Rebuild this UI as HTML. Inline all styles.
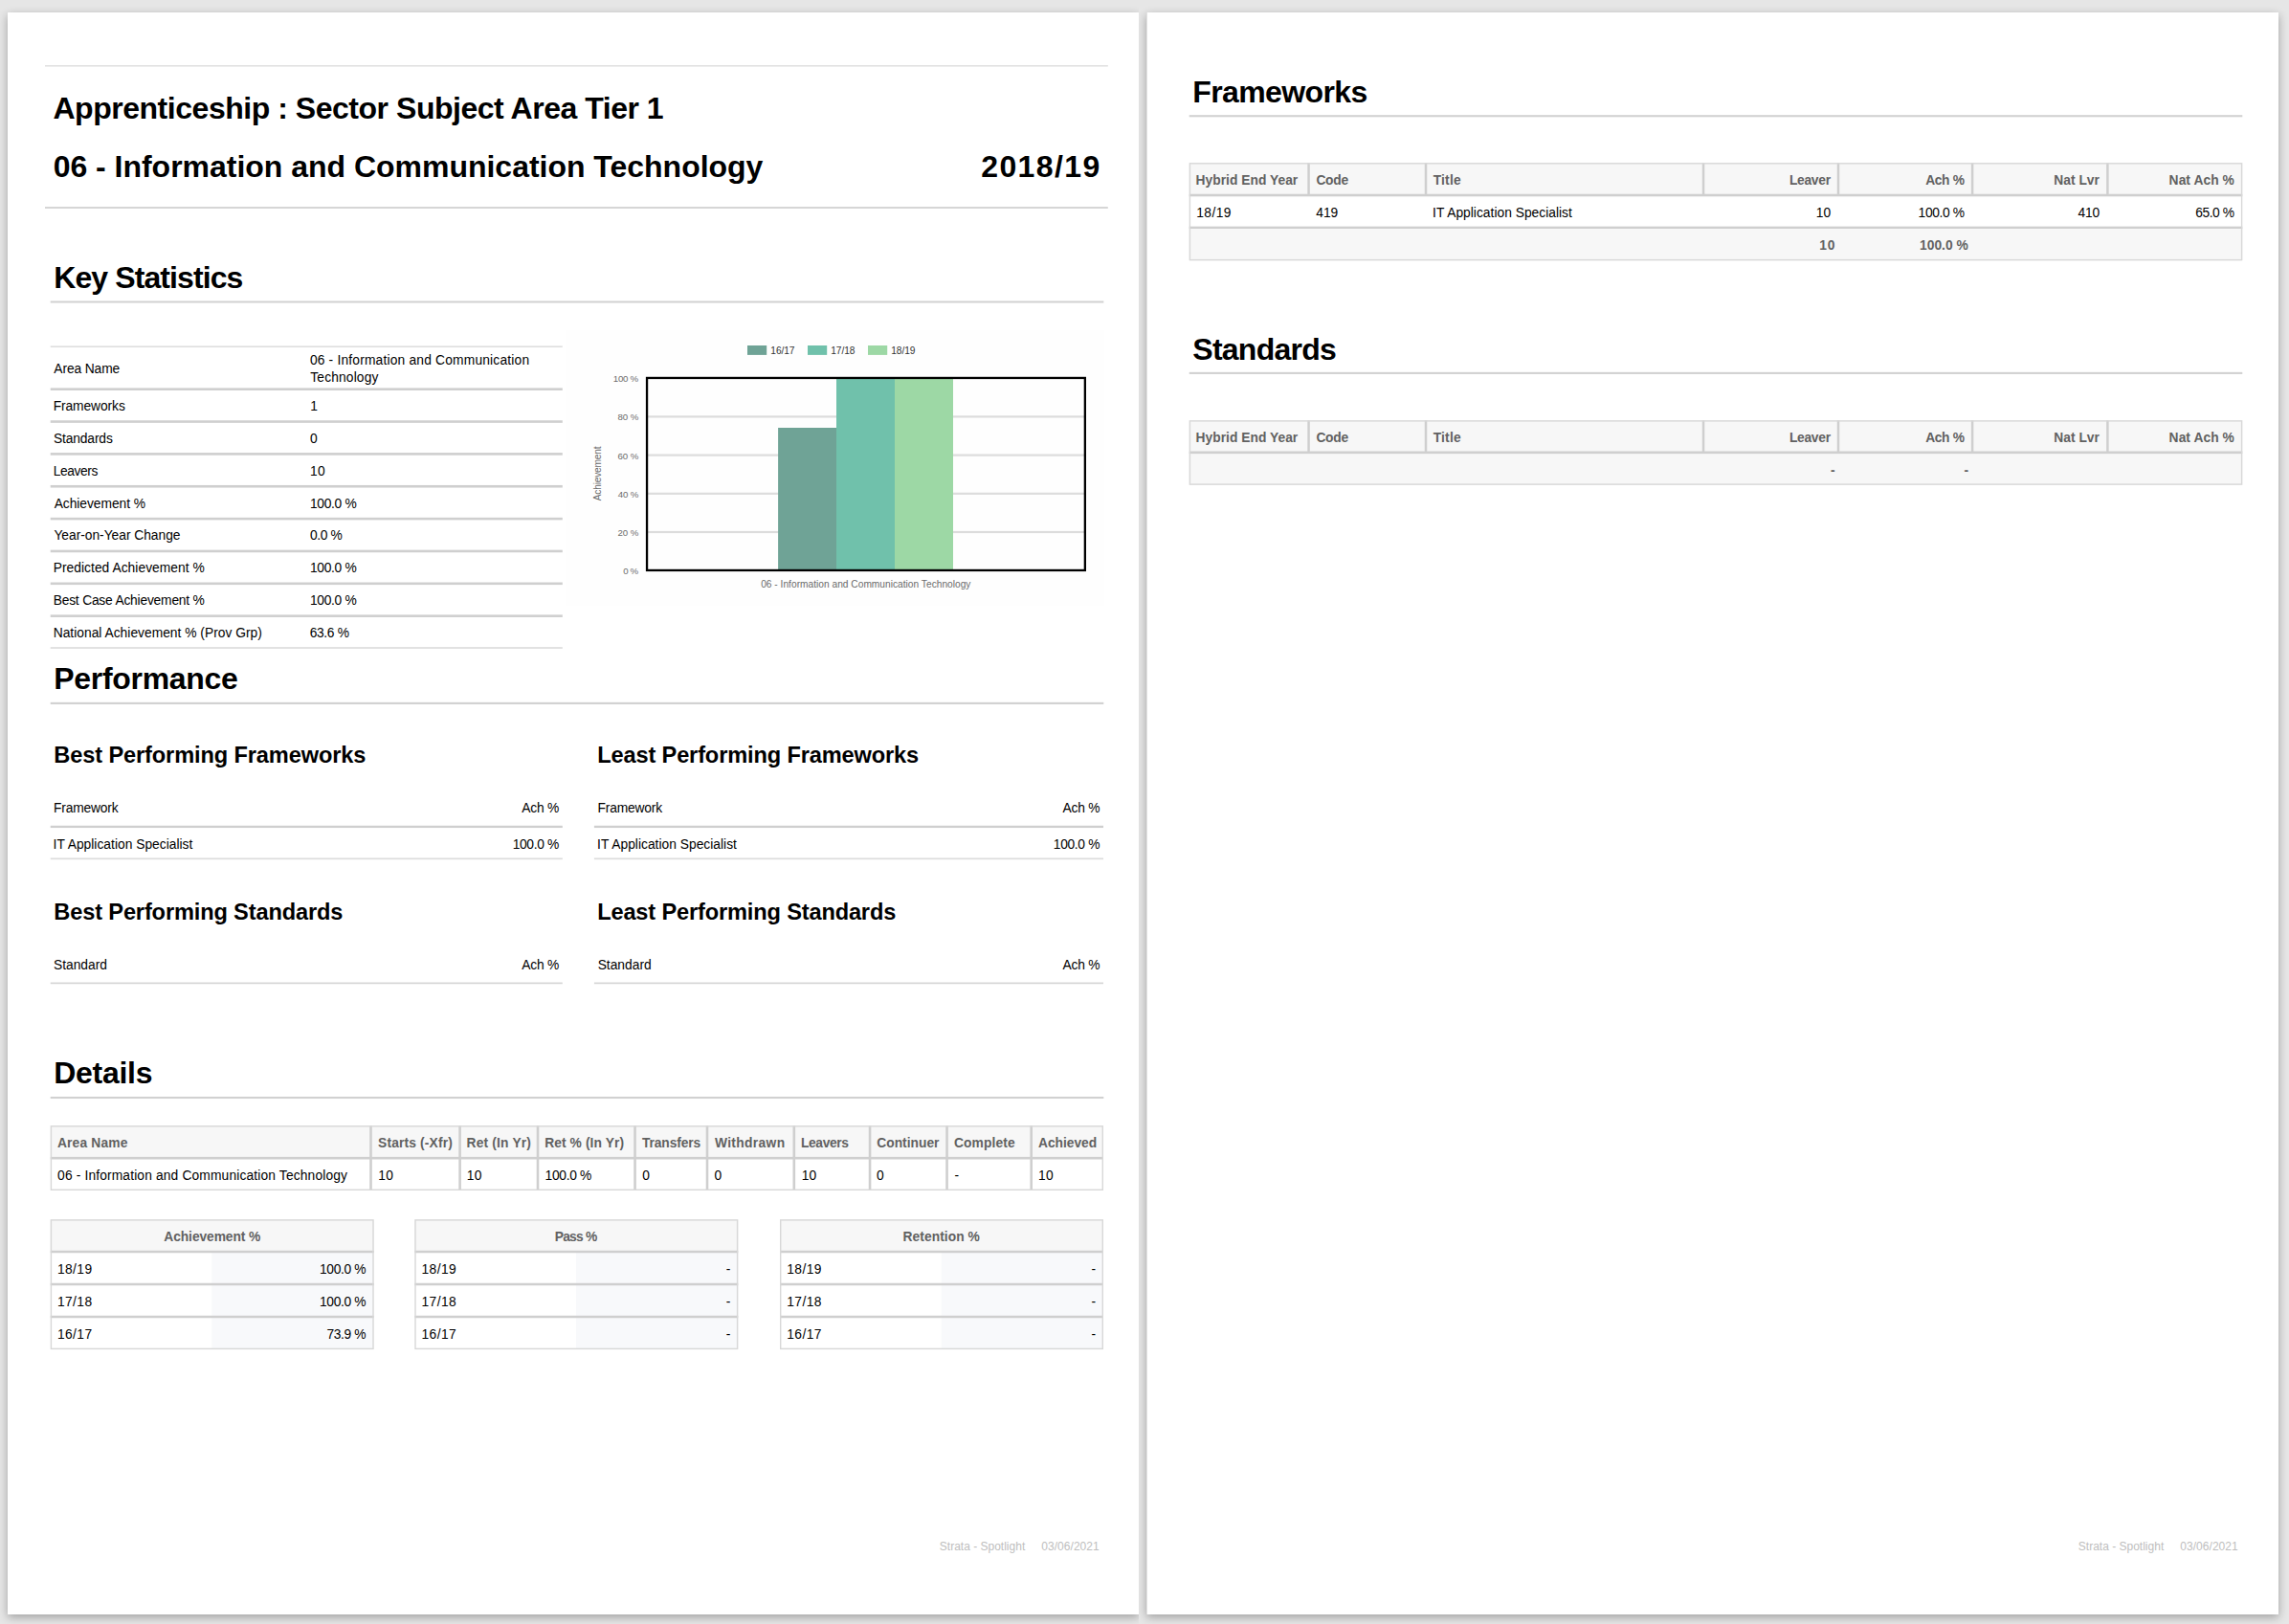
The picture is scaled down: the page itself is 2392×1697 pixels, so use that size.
<!DOCTYPE html>
<html lang="en">
<head>
<meta charset="utf-8">
<title>Apprenticeship : Sector Subject Area Tier 1</title>
<style>
html,body{margin:0;padding:0;}
body{width:2392px;height:1697px;background:#e6e6e6;position:relative;overflow:hidden;font-family:"Liberation Sans",sans-serif;color:#000;}
.wrap{position:absolute;top:0;height:1697px;overflow:hidden;background:#e6e6e6;}
.page{position:absolute;top:13px;height:1674px;background:#fff;box-shadow:0 3px 9px rgba(0,0,0,.3);}
.t{position:absolute;white-space:nowrap;line-height:1;}
.b{font-weight:bold;}
svg.g{position:absolute;left:0;top:0;}
</style>
</head>
<body>
<div class="wrap" style="left:0;width:1190px"><div class="page" style="left:8px;width:1182px"></div></div>
<div class="wrap" style="left:1190px;width:1202px"><div class="page" style="left:8px;width:1183px"></div><div style="position:absolute;left:8px;top:13px;width:1px;height:1674px;background:#e1e1e1"></div></div>
<svg class="g" width="2392" height="1697" viewBox="0 0 2392 1697">
<rect x="47.00" y="68.00" width="1110.80" height="1.60" fill="#e2e2e2"/>
<rect x="47.00" y="216.05" width="1110.80" height="1.90" fill="#d4d4d4"/>
<rect x="52.70" y="314.50" width="1100.60" height="2.00" fill="#d1d1d1"/>
<rect x="52.70" y="361.45" width="535.10" height="1.50" fill="#dddddd"/>
<rect x="52.70" y="405.40" width="535.10" height="2.60" fill="#cfcfcf"/>
<rect x="52.70" y="439.25" width="535.10" height="2.60" fill="#cfcfcf"/>
<rect x="52.70" y="473.10" width="535.10" height="2.60" fill="#cfcfcf"/>
<rect x="52.70" y="506.95" width="535.10" height="2.60" fill="#cfcfcf"/>
<rect x="52.70" y="540.80" width="535.10" height="2.60" fill="#cfcfcf"/>
<rect x="52.70" y="574.65" width="535.10" height="2.60" fill="#cfcfcf"/>
<rect x="52.70" y="608.50" width="535.10" height="2.60" fill="#cfcfcf"/>
<rect x="52.70" y="642.35" width="535.10" height="2.60" fill="#cfcfcf"/>
<rect x="52.70" y="676.15" width="535.10" height="1.70" fill="#dddddd"/>
<rect x="591.00" y="345.50" width="563.00" height="287.50" fill="#fefefe"/>
<rect x="781.00" y="361.00" width="20.20" height="9.90" fill="#6fa396"/>
<rect x="844.00" y="361.00" width="20.20" height="9.90" fill="#70c1ab"/>
<rect x="907.00" y="361.00" width="20.20" height="9.90" fill="#9dd8a5"/>
<rect x="677.00" y="434.30" width="456.00" height="2.20" fill="#dcdcdc"/>
<rect x="677.00" y="474.50" width="456.00" height="2.20" fill="#dcdcdc"/>
<rect x="677.00" y="514.70" width="456.00" height="2.20" fill="#dcdcdc"/>
<rect x="677.00" y="554.90" width="456.00" height="2.20" fill="#dcdcdc"/>
<rect x="813.10" y="447.00" width="60.90" height="149.00" fill="#6fa396"/>
<rect x="874.00" y="395.00" width="61.00" height="201.00" fill="#70c1ab"/>
<rect x="935.00" y="395.00" width="61.00" height="201.00" fill="#9dd8a5"/>
<rect x="676.05" y="394.95" width="457.80" height="201.00" fill="none" stroke="#000" stroke-width="2.3"/>
<rect x="52.70" y="733.85" width="1100.60" height="2.10" fill="#d1d1d1"/>
<rect x="52.70" y="862.75" width="535.10" height="2.30" fill="#cfcfcf"/>
<rect x="52.70" y="896.45" width="535.10" height="1.70" fill="#dddddd"/>
<rect x="620.90" y="862.75" width="532.10" height="2.30" fill="#cfcfcf"/>
<rect x="620.90" y="896.45" width="532.10" height="1.70" fill="#dddddd"/>
<rect x="52.70" y="1026.55" width="535.10" height="1.70" fill="#d6d6d6"/>
<rect x="620.90" y="1026.55" width="532.10" height="1.70" fill="#d6d6d6"/>
<rect x="52.70" y="1145.95" width="1100.60" height="2.10" fill="#d1d1d1"/>
<rect x="52.70" y="1176.20" width="1100.30" height="34.00" fill="#f7f7f7"/>
<rect x="386.20" y="1176.20" width="2.60" height="67.80" fill="#cfcfcf"/>
<rect x="479.30" y="1176.20" width="2.60" height="67.80" fill="#cfcfcf"/>
<rect x="560.70" y="1176.20" width="2.60" height="67.80" fill="#cfcfcf"/>
<rect x="662.25" y="1176.20" width="2.60" height="67.80" fill="#cfcfcf"/>
<rect x="737.70" y="1176.20" width="2.60" height="67.80" fill="#cfcfcf"/>
<rect x="828.50" y="1176.20" width="2.60" height="67.80" fill="#cfcfcf"/>
<rect x="907.75" y="1176.20" width="2.60" height="67.80" fill="#cfcfcf"/>
<rect x="988.25" y="1176.20" width="2.60" height="67.80" fill="#cfcfcf"/>
<rect x="1076.40" y="1176.20" width="2.60" height="67.80" fill="#cfcfcf"/>
<rect x="52.70" y="1208.90" width="1100.30" height="2.60" fill="#cfcfcf"/>
<rect x="53.40" y="1176.90" width="1098.90" height="66.40" fill="none" stroke="#d8d8d8" stroke-width="1.4"/>
<rect x="52.70" y="1274.20" width="338.00" height="33.80" fill="#f7f7f7"/>
<rect x="221.30" y="1308.00" width="169.40" height="102.10" fill="#f8f9fb"/>
<rect x="52.70" y="1306.75" width="338.00" height="2.50" fill="#cfcfcf"/>
<rect x="52.70" y="1340.75" width="338.00" height="2.50" fill="#cfcfcf"/>
<rect x="52.70" y="1374.75" width="338.00" height="2.50" fill="#cfcfcf"/>
<rect x="53.40" y="1274.90" width="336.60" height="134.50" fill="none" stroke="#d8d8d8" stroke-width="1.4"/>
<rect x="433.30" y="1274.20" width="338.00" height="33.80" fill="#f7f7f7"/>
<rect x="601.90" y="1308.00" width="169.40" height="102.10" fill="#f8f9fb"/>
<rect x="433.30" y="1306.75" width="338.00" height="2.50" fill="#cfcfcf"/>
<rect x="433.30" y="1340.75" width="338.00" height="2.50" fill="#cfcfcf"/>
<rect x="433.30" y="1374.75" width="338.00" height="2.50" fill="#cfcfcf"/>
<rect x="434.00" y="1274.90" width="336.60" height="134.50" fill="none" stroke="#d8d8d8" stroke-width="1.4"/>
<rect x="815.00" y="1274.20" width="338.00" height="33.80" fill="#f7f7f7"/>
<rect x="983.60" y="1308.00" width="169.40" height="102.10" fill="#f8f9fb"/>
<rect x="815.00" y="1306.75" width="338.00" height="2.50" fill="#cfcfcf"/>
<rect x="815.00" y="1340.75" width="338.00" height="2.50" fill="#cfcfcf"/>
<rect x="815.00" y="1374.75" width="338.00" height="2.50" fill="#cfcfcf"/>
<rect x="815.70" y="1274.90" width="336.60" height="134.50" fill="none" stroke="#d8d8d8" stroke-width="1.4"/>
<rect x="1242.70" y="120.20" width="1100.60" height="2.10" fill="#d1d1d1"/>
<rect x="1242.70" y="170.10" width="1100.60" height="33.90" fill="#f7f7f7"/>
<rect x="1242.70" y="237.80" width="1100.60" height="34.50" fill="#f7f7f7"/>
<rect x="1366.30" y="170.10" width="2.50" height="33.90" fill="#cfcfcf"/>
<rect x="1488.75" y="170.10" width="2.50" height="33.90" fill="#cfcfcf"/>
<rect x="1778.80" y="170.10" width="2.50" height="33.90" fill="#cfcfcf"/>
<rect x="1919.75" y="170.10" width="2.50" height="33.90" fill="#cfcfcf"/>
<rect x="2059.85" y="170.10" width="2.50" height="33.90" fill="#cfcfcf"/>
<rect x="2201.15" y="170.10" width="2.50" height="33.90" fill="#cfcfcf"/>
<rect x="1242.70" y="202.70" width="1100.60" height="2.60" fill="#cfcfcf"/>
<rect x="1242.70" y="236.60" width="1100.60" height="2.40" fill="#cfcfcf"/>
<rect x="1243.40" y="170.80" width="1099.20" height="100.80" fill="none" stroke="#d8d8d8" stroke-width="1.4"/>
<rect x="1242.70" y="388.85" width="1100.60" height="2.10" fill="#d1d1d1"/>
<rect x="1242.70" y="439.20" width="1100.60" height="33.60" fill="#f7f7f7"/>
<rect x="1242.70" y="472.80" width="1100.60" height="34.00" fill="#f7f7f7"/>
<rect x="1366.30" y="439.20" width="2.50" height="33.60" fill="#cfcfcf"/>
<rect x="1488.75" y="439.20" width="2.50" height="33.60" fill="#cfcfcf"/>
<rect x="1778.80" y="439.20" width="2.50" height="33.60" fill="#cfcfcf"/>
<rect x="1919.75" y="439.20" width="2.50" height="33.60" fill="#cfcfcf"/>
<rect x="2059.85" y="439.20" width="2.50" height="33.60" fill="#cfcfcf"/>
<rect x="2201.15" y="439.20" width="2.50" height="33.60" fill="#cfcfcf"/>
<rect x="1242.70" y="471.50" width="1100.60" height="2.60" fill="#cfcfcf"/>
<rect x="1243.40" y="439.90" width="1099.20" height="66.20" fill="none" stroke="#d8d8d8" stroke-width="1.4"/>
</svg>
<div class="t b" style="left:55.45px;top:97px;font-size:32px;letter-spacing:-0.47px;">Apprenticeship : Sector Subject Area Tier 1</div>
<div class="t b" style="left:55.65px;top:158px;font-size:32px;letter-spacing:-0.018px;">06 - Information and Communication Technology</div>
<div class="t b" style="left:1025.25px;top:158px;font-size:32px;letter-spacing:1.383px;">2018/19</div>
<div class="t b" style="left:56.20px;top:274px;font-size:32px;letter-spacing:-0.9px;">Key Statistics</div>
<div class="t" style="left:56.30px;top:379px;font-size:13.8px;letter-spacing:-0.106px;">Area Name</div>
<div class="t" style="left:323.90px;top:370px;font-size:13.8px;letter-spacing:0.183px;">06 - Information and Communication</div>
<div class="t" style="left:324.35px;top:388px;font-size:13.8px;letter-spacing:0.133px;">Technology</div>
<div class="t" style="left:55.70px;top:418px;font-size:13.8px;letter-spacing:-0.089px;">Frameworks</div>
<div class="t" style="left:324.30px;top:418px;font-size:13.8px;">1</div>
<div class="t" style="left:55.95px;top:452px;font-size:13.8px;letter-spacing:-0.131px;">Standards</div>
<div class="t" style="left:323.90px;top:452px;font-size:13.8px;">0</div>
<div class="t" style="left:55.70px;top:486px;font-size:13.8px;letter-spacing:-0.383px;">Leavers</div>
<div class="t" style="left:324.00px;top:486px;font-size:13.8px;letter-spacing:0.45px;">10</div>
<div class="t" style="left:56.70px;top:520px;font-size:13.8px;letter-spacing:-0.038px;">Achievement %</div>
<div class="t" style="left:324.00px;top:520px;font-size:13.8px;letter-spacing:-0.325px;">100.0 %</div>
<div class="t" style="left:56.45px;top:553px;font-size:13.8px;letter-spacing:-0.022px;">Year-on-Year Change</div>
<div class="t" style="left:323.90px;top:553px;font-size:13.8px;letter-spacing:-0.363px;">0.0 %</div>
<div class="t" style="left:55.70px;top:587px;font-size:13.8px;letter-spacing:0.039px;">Predicted Achievement %</div>
<div class="t" style="left:324.00px;top:587px;font-size:13.8px;letter-spacing:-0.325px;">100.0 %</div>
<div class="t" style="left:55.70px;top:621px;font-size:13.8px;letter-spacing:-0.2px;">Best Case Achievement %</div>
<div class="t" style="left:324.00px;top:621px;font-size:13.8px;letter-spacing:-0.325px;">100.0 %</div>
<div class="t" style="left:55.70px;top:655px;font-size:13.8px;letter-spacing:0.013px;">National Achievement % (Prov Grp)</div>
<div class="t" style="left:323.65px;top:655px;font-size:13.8px;letter-spacing:-0.33px;">63.6 %</div>
<div class="t" style="left:805.35px;top:362px;font-size:10.2px;letter-spacing:-0.088px;color:#333;">16/17</div>
<div class="t" style="left:868.25px;top:362px;font-size:10.2px;letter-spacing:-0.088px;color:#333;">17/18</div>
<div class="t" style="left:931.25px;top:362px;font-size:10.2px;letter-spacing:-0.088px;color:#333;">18/19</div>
<div class="t" style="left:640.85px;top:391px;font-size:9.7px;letter-spacing:-0.275px;color:#6b6b6b;">100 %</div>
<div class="t" style="left:645.40px;top:431px;font-size:9.7px;letter-spacing:-0.05px;color:#6b6b6b;">80 %</div>
<div class="t" style="left:645.40px;top:472px;font-size:9.7px;letter-spacing:-0.05px;color:#6b6b6b;">60 %</div>
<div class="t" style="left:645.65px;top:512px;font-size:9.7px;letter-spacing:-0.133px;color:#6b6b6b;">40 %</div>
<div class="t" style="left:645.40px;top:552px;font-size:9.7px;letter-spacing:-0.05px;color:#6b6b6b;">20 %</div>
<div class="t" style="left:651.15px;top:592px;font-size:9.7px;letter-spacing:-0.325px;color:#6b6b6b;">0 %</div>
<div class="t" style="left:795.20px;top:606px;font-size:10.2px;letter-spacing:0.007px;color:#6b6b6b;">06 - Information and Communication Technology</div>
<div class="t b" style="left:56.30px;top:693px;font-size:32px;letter-spacing:-0.32px;">Performance</div>
<div class="t b" style="left:56.30px;top:778px;font-size:23.6px;letter-spacing:-0.122px;">Best Performing Frameworks</div>
<div class="t" style="left:56.00px;top:838px;font-size:13.8px;letter-spacing:-0.175px;">Framework</div>
<div class="t" style="left:545.35px;top:838px;font-size:13.8px;letter-spacing:-0.25px;">Ach %</div>
<div class="t" style="left:55.55px;top:876px;font-size:13.8px;letter-spacing:0.015px;">IT Application Specialist</div>
<div class="t" style="left:535.65px;top:876px;font-size:13.8px;letter-spacing:-0.342px;">100.0 %</div>
<div class="t b" style="left:624.20px;top:778px;font-size:23.6px;letter-spacing:-0.14px;">Least Performing Frameworks</div>
<div class="t" style="left:624.55px;top:838px;font-size:13.8px;letter-spacing:-0.175px;">Framework</div>
<div class="t" style="left:1110.55px;top:838px;font-size:13.8px;letter-spacing:-0.25px;">Ach %</div>
<div class="t" style="left:624.10px;top:876px;font-size:13.8px;letter-spacing:0.015px;">IT Application Specialist</div>
<div class="t" style="left:1100.85px;top:876px;font-size:13.8px;letter-spacing:-0.342px;">100.0 %</div>
<div class="t b" style="left:56.30px;top:942px;font-size:23.6px;letter-spacing:-0.142px;">Best Performing Standards</div>
<div class="t" style="left:55.95px;top:1002px;font-size:13.8px;letter-spacing:0.007px;">Standard</div>
<div class="t" style="left:545.35px;top:1002px;font-size:13.8px;letter-spacing:-0.25px;">Ach %</div>
<div class="t b" style="left:624.20px;top:942px;font-size:23.6px;letter-spacing:-0.156px;">Least Performing Standards</div>
<div class="t" style="left:624.65px;top:1002px;font-size:13.8px;letter-spacing:0.007px;">Standard</div>
<div class="t" style="left:1110.55px;top:1002px;font-size:13.8px;letter-spacing:-0.25px;">Ach %</div>
<div class="t b" style="left:56.30px;top:1105px;font-size:32px;letter-spacing:-0.3px;">Details</div>
<div class="t b" style="left:59.95px;top:1188px;font-size:13.8px;letter-spacing:0.175px;color:#616161;">Area Name</div>
<div class="t" style="left:60.10px;top:1222px;font-size:13.8px;letter-spacing:0.143px;">06 - Information and Communication Technology</div>
<div class="t b" style="left:395.10px;top:1188px;font-size:13.8px;letter-spacing:0.146px;color:#616161;">Starts (-Xfr)</div>
<div class="t" style="left:395.30px;top:1222px;font-size:13.8px;letter-spacing:0.25px;">10</div>
<div class="t b" style="left:487.55px;top:1188px;font-size:13.8px;letter-spacing:0.17px;color:#616161;">Ret (In Yr)</div>
<div class="t" style="left:487.80px;top:1222px;font-size:13.8px;letter-spacing:0.25px;">10</div>
<div class="t b" style="left:569.20px;top:1188px;font-size:13.8px;letter-spacing:0.092px;color:#616161;">Ret % (In Yr)</div>
<div class="t" style="left:569.60px;top:1222px;font-size:13.8px;letter-spacing:-0.325px;">100.0 %</div>
<div class="t b" style="left:671.00px;top:1188px;font-size:13.8px;letter-spacing:-0.125px;color:#616161;">Transfers</div>
<div class="t" style="left:671.20px;top:1222px;font-size:13.8px;">0</div>
<div class="t b" style="left:746.90px;top:1188px;font-size:13.8px;letter-spacing:0.35px;color:#616161;">Withdrawn</div>
<div class="t" style="left:746.50px;top:1222px;font-size:13.8px;">0</div>
<div class="t b" style="left:837.00px;top:1188px;font-size:13.8px;letter-spacing:-0.383px;color:#616161;">Leavers</div>
<div class="t" style="left:837.70px;top:1222px;font-size:13.8px;letter-spacing:0.25px;">10</div>
<div class="t b" style="left:916.25px;top:1188px;font-size:13.8px;letter-spacing:0.012px;color:#616161;">Continuer</div>
<div class="t" style="left:916.10px;top:1222px;font-size:13.8px;">0</div>
<div class="t b" style="left:997.00px;top:1188px;font-size:13.8px;letter-spacing:0.107px;color:#616161;">Complete</div>
<div class="t" style="left:997.40px;top:1222px;font-size:13.8px;">-</div>
<div class="t b" style="left:1085.05px;top:1188px;font-size:13.8px;letter-spacing:-0.036px;color:#616161;">Achieved</div>
<div class="t" style="left:1084.90px;top:1222px;font-size:13.8px;letter-spacing:0.45px;">10</div>
<div class="t b" style="left:171.30px;top:1286px;font-size:13.8px;letter-spacing:-0.079px;color:#616161;">Achievement %</div>
<div class="t" style="left:59.90px;top:1320px;font-size:13.8px;letter-spacing:0.425px;">18/19</div>
<div class="t" style="left:334.00px;top:1320px;font-size:13.8px;letter-spacing:-0.342px;">100.0 %</div>
<div class="t" style="left:59.90px;top:1354px;font-size:13.8px;letter-spacing:0.425px;">17/18</div>
<div class="t" style="left:334.00px;top:1354px;font-size:13.8px;letter-spacing:-0.342px;">100.0 %</div>
<div class="t" style="left:59.90px;top:1388px;font-size:13.8px;letter-spacing:0.425px;">16/17</div>
<div class="t" style="left:341.45px;top:1388px;font-size:13.8px;letter-spacing:-0.35px;">73.9 %</div>
<div class="t b" style="left:579.70px;top:1286px;font-size:13.8px;letter-spacing:-0.76px;color:#616161;">Pass %</div>
<div class="t" style="left:440.50px;top:1320px;font-size:13.8px;letter-spacing:0.425px;">18/19</div>
<div class="t" style="left:758.80px;top:1320px;font-size:13.8px;">-</div>
<div class="t" style="left:440.50px;top:1354px;font-size:13.8px;letter-spacing:0.425px;">17/18</div>
<div class="t" style="left:758.80px;top:1354px;font-size:13.8px;">-</div>
<div class="t" style="left:440.50px;top:1388px;font-size:13.8px;letter-spacing:0.425px;">16/17</div>
<div class="t" style="left:758.80px;top:1388px;font-size:13.8px;">-</div>
<div class="t b" style="left:943.60px;top:1286px;font-size:13.8px;letter-spacing:0.055px;color:#616161;">Retention %</div>
<div class="t" style="left:822.20px;top:1320px;font-size:13.8px;letter-spacing:0.425px;">18/19</div>
<div class="t" style="left:1140.50px;top:1320px;font-size:13.8px;">-</div>
<div class="t" style="left:822.20px;top:1354px;font-size:13.8px;letter-spacing:0.425px;">17/18</div>
<div class="t" style="left:1140.50px;top:1354px;font-size:13.8px;">-</div>
<div class="t" style="left:822.20px;top:1388px;font-size:13.8px;letter-spacing:0.425px;">16/17</div>
<div class="t" style="left:1140.50px;top:1388px;font-size:13.8px;">-</div>
<div class="t" style="left:981.80px;top:1610px;font-size:12px;letter-spacing:0.003px;color:#bebebe;">Strata - Spotlight</div>
<div class="t" style="left:1088.20px;top:1610px;font-size:12px;letter-spacing:0.056px;color:#bebebe;">03/06/2021</div>
<div class="t b" style="left:1246.30px;top:80px;font-size:32px;letter-spacing:-0.628px;">Frameworks</div>
<div class="t b" style="left:1249.60px;top:182px;font-size:13.8px;letter-spacing:0.021px;color:#616161;">Hybrid End Year</div>
<div class="t b" style="left:1375.40px;top:182px;font-size:13.8px;letter-spacing:-0.267px;color:#616161;">Code</div>
<div class="t b" style="left:1497.65px;top:182px;font-size:13.8px;letter-spacing:0.225px;color:#616161;">Title</div>
<div class="t b" style="left:1869.90px;top:182px;font-size:13.8px;letter-spacing:-0.27px;color:#616161;">Leaver</div>
<div class="t b" style="left:2012.15px;top:182px;font-size:13.8px;letter-spacing:-0.35px;color:#616161;">Ach %</div>
<div class="t b" style="left:2146.30px;top:182px;font-size:13.8px;letter-spacing:0.008px;color:#616161;">Nat Lvr</div>
<div class="t b" style="left:2266.60px;top:182px;font-size:13.8px;letter-spacing:0.069px;color:#616161;">Nat Ach %</div>
<div class="t" style="left:1250.20px;top:216px;font-size:13.8px;letter-spacing:0.425px;">18/19</div>
<div class="t" style="left:1375.35px;top:216px;font-size:13.8px;letter-spacing:-0.125px;">419</div>
<div class="t" style="left:1497.05px;top:216px;font-size:13.8px;letter-spacing:0.015px;">IT Application Specialist</div>
<div class="t" style="left:1897.80px;top:216px;font-size:13.8px;letter-spacing:0.15px;">10</div>
<div class="t" style="left:2004.60px;top:216px;font-size:13.8px;letter-spacing:-0.375px;">100.0 %</div>
<div class="t" style="left:2171.45px;top:216px;font-size:13.8px;letter-spacing:-0.125px;">410</div>
<div class="t" style="left:2294.15px;top:216px;font-size:13.8px;letter-spacing:-0.43px;">65.0 %</div>
<div class="t b" style="left:1901.15px;top:250px;font-size:13.8px;letter-spacing:1.0px;color:#616161;">10</div>
<div class="t b" style="left:2006.05px;top:250px;font-size:13.8px;letter-spacing:0.017px;color:#616161;">100.0 %</div>
<div class="t b" style="left:1246.30px;top:349px;font-size:32px;letter-spacing:-0.744px;">Standards</div>
<div class="t b" style="left:1249.60px;top:451px;font-size:13.8px;letter-spacing:0.021px;color:#616161;">Hybrid End Year</div>
<div class="t b" style="left:1375.40px;top:451px;font-size:13.8px;letter-spacing:-0.267px;color:#616161;">Code</div>
<div class="t b" style="left:1497.65px;top:451px;font-size:13.8px;letter-spacing:0.225px;color:#616161;">Title</div>
<div class="t b" style="left:1869.90px;top:451px;font-size:13.8px;letter-spacing:-0.27px;color:#616161;">Leaver</div>
<div class="t b" style="left:2012.15px;top:451px;font-size:13.8px;letter-spacing:-0.35px;color:#616161;">Ach %</div>
<div class="t b" style="left:2146.30px;top:451px;font-size:13.8px;letter-spacing:0.008px;color:#616161;">Nat Lvr</div>
<div class="t b" style="left:2266.60px;top:451px;font-size:13.8px;letter-spacing:0.069px;color:#616161;">Nat Ach %</div>
<div class="t b" style="left:1912.90px;top:485px;font-size:13.8px;color:#616161;">-</div>
<div class="t b" style="left:2052.40px;top:485px;font-size:13.8px;color:#616161;">-</div>
<div class="t" style="left:2171.80px;top:1610px;font-size:12px;letter-spacing:0.003px;color:#bebebe;">Strata - Spotlight</div>
<div class="t" style="left:2278.20px;top:1610px;font-size:12px;letter-spacing:0.056px;color:#bebebe;">03/06/2021</div>
<div class="t" style="left:328.8px;top:495.2px;width:600px;height:0;font-size:10.2px;letter-spacing:-0.215px;color:#6b6b6b;text-align:center;line-height:0;transform:rotate(-90deg);transform-origin:50% 0;"><span style="position:relative;top:-3.6px">Achievement</span></div>
</body>
</html>
